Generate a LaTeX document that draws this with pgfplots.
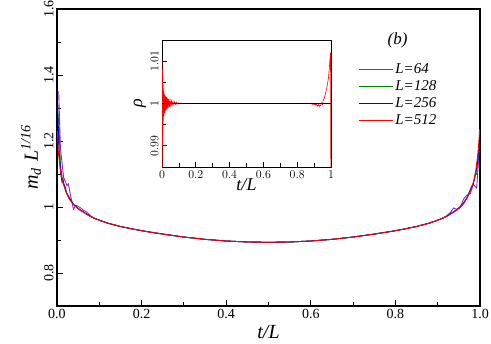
\documentclass[border=0pt]{standalone}
\usepackage{fontspec}
\setmainfont{Liberation Serif}
\usepackage{pgfplots}
\pgfplotsset{compat=1.18}

\definecolor{cViolet}{RGB}{140,40,220}
\definecolor{cGreen}{RGB}{0,135,0}
\definecolor{cBlue}{RGB}{0,0,255}
\definecolor{cRed}{RGB}{255,0,0}

\newcommand{\tickfont}{\fontsize{14bp}{16bp}\selectfont}
\newcommand{\labfont}{\fontsize{20bp}{24bp}\selectfont}

\begin{document}
\begin{tikzpicture}
\useasboundingbox (-57bp,-38bp) rectangle (434bp,306bp);
% main axis
\begin{axis}[
  at={(0,0)}, anchor=south west,
  scale only axis,
  width=423bp, height=297bp,
  xmin=0, xmax=1, ymin=0.7, ymax=1.6,
  xtick={0,0.2,0.4,0.6,0.8,1},
  xticklabels={0.0,0.2,0.4,0.6,0.8,1.0},
  minor xtick={0.1,0.3,0.5,0.7,0.9},
  ytick={0.8,1,1.2,1.4,1.6},
  yticklabels={0.8,1,1.2,1.4,1.6},
  minor ytick={0.7,0.9,1.1,1.3,1.5},
  xtick pos=left, ytick pos=left,
  tick align=inside,
  major tick length=6bp, minor tick length=4bp,
  axis line style={line width=1.1pt},
  tick style={line width=0.9pt, black},
  tick label style={font=\tickfont},
  yticklabel style={rotate=90, anchor=south},
  xlabel={\textit{t/L}},
  ylabel={\textit{m}\textsubscript{\textit{d}}\hspace{0.3em}\textit{L}\textsuperscript{\textit{1/16}}},
  label style={font=\labfont},
  xlabel style={yshift=1bp},
  ylabel style={yshift=-4bp},
  legend style={draw=none, fill=none, font=\fontsize{15bp}{17bp}\selectfont\itshape,
    at={(rel axis cs:0.705,0.83)}, anchor=north west, row sep=1.5bp},
  legend cell align=left,
  legend image code/.code={\draw[#1, line width=1pt] (0bp,0bp) -- (34bp,0bp);},
  every axis plot/.append style={line width=0.9pt},
]
\addplot[cViolet] coordinates {
(0.004,1.35)(0.008,1.18)(0.0156,1.09)(0.0234,1.065)(0.027,1.07)(0.03125,1.04)
(0.039,0.993)(0.044,1.005)(0.047,1.004)(0.055,0.998)(0.0625,0.99)(0.070,0.985)
(0.078,0.975)(0.086,0.966)(0.094,0.963)(0.10,0.960)
(0.12,0.951)(0.15,0.941)(0.18,0.933)(0.21,0.926)(0.25,0.918)(0.30,0.909)(0.35,0.902)
(0.40,0.897)(0.45,0.894)(0.50,0.893)(0.55,0.894)(0.60,0.897)(0.65,0.902)(0.70,0.909)
(0.75,0.918)(0.79,0.926)(0.82,0.933)(0.85,0.941)(0.88,0.951)(0.90,0.960)
(0.91,0.966)(0.92,0.972)(0.9297,0.983)(0.9375,0.997)(0.945,0.993)(0.953,0.998)
(0.961,1.024)(0.969,1.036)(0.977,1.040)(0.984,1.068)(0.9922,1.058)(0.996,1.13)(0.998,1.17)
};
\addplot[cGreen] coordinates {
(0.004,1.27)(0.008,1.13)(0.012,1.09)(0.016,1.07)(0.02,1.06)(0.023,1.04)(0.027,1.035)
(0.031,1.025)(0.039,1.008)(0.047,0.998)(0.055,0.990)(0.0625,0.985)(0.07,0.978)
(0.08,0.971)(0.09,0.965)(0.10,0.960)
(0.12,0.951)(0.15,0.941)(0.18,0.933)(0.21,0.926)(0.25,0.918)(0.30,0.909)(0.35,0.902)
(0.40,0.897)(0.45,0.894)(0.50,0.893)(0.55,0.894)(0.60,0.897)(0.65,0.902)(0.70,0.909)
(0.75,0.918)(0.79,0.926)(0.82,0.933)(0.85,0.941)(0.88,0.951)(0.90,0.960)
(0.91,0.965)(0.92,0.971)(0.9375,0.986)(0.945,0.992)(0.953,1.000)(0.961,1.012)
(0.969,1.028)(0.977,1.050)(0.984,1.070)(0.988,1.095)(0.992,1.100)(0.996,1.16)
};
\addplot[cBlue] coordinates {
(0.002,1.31)(0.004,1.19)(0.006,1.15)(0.008,1.12)(0.01,1.09)(0.012,1.075)(0.014,1.085)
(0.016,1.07)(0.02,1.052)(0.025,1.035)(0.03,1.024)(0.04,1.007)(0.05,0.996)(0.06,0.987)
(0.08,0.971)(0.09,0.965)(0.10,0.960)
(0.12,0.951)(0.15,0.941)(0.18,0.933)(0.21,0.926)(0.25,0.918)(0.30,0.909)(0.35,0.902)
(0.40,0.897)(0.45,0.894)(0.50,0.893)(0.55,0.894)(0.60,0.897)(0.65,0.902)(0.70,0.909)
(0.75,0.918)(0.79,0.926)(0.82,0.933)(0.85,0.941)(0.88,0.951)(0.90,0.960)
(0.91,0.965)(0.92,0.971)(0.93,0.979)(0.94,0.987)(0.95,0.997)(0.96,1.010)(0.97,1.030)
(0.98,1.062)(0.984,1.070)(0.988,1.090)(0.992,1.120)(0.996,1.16)(0.998,1.19)
};
\addplot[cRed] coordinates {
(0.001,1.23)(0.003,1.17)(0.005,1.145)(0.0075,1.115)(0.01,1.095)(0.015,1.07)(0.02,1.05)
(0.03,1.022)(0.04,1.006)(0.05,0.995)(0.06,0.986)(0.07,0.978)(0.08,0.971)(0.09,0.965)
(0.10,0.960)
(0.12,0.951)(0.15,0.941)(0.18,0.933)(0.21,0.926)(0.25,0.918)(0.30,0.909)(0.35,0.902)
(0.40,0.897)(0.45,0.894)(0.50,0.893)(0.55,0.894)(0.60,0.897)(0.65,0.902)(0.70,0.909)
(0.75,0.918)(0.79,0.926)(0.82,0.933)(0.85,0.941)(0.88,0.951)(0.90,0.960)
(0.91,0.965)(0.92,0.971)(0.93,0.978)(0.94,0.986)(0.95,0.995)(0.96,1.008)(0.97,1.028)
(0.98,1.058)(0.985,1.078)(0.99,1.11)(0.995,1.16)(0.998,1.21)(0.999,1.235)
};
\legend{L=64,L=128,L=256,L=512}
\node[font=\fontsize{17bp}{20bp}\selectfont\itshape] at (rel axis cs:0.805,0.895) {(b)};
\end{axis}
% inset
\begin{axis}[
  at={(105bp,139bp)}, anchor=south west,
  scale only axis,
  width=169bp, height=127bp,
  axis background/.style={fill=white},
  xmin=0, xmax=1, ymin=0.985, ymax=1.015,
  xtick={0,0.2,0.4,0.6,0.8,1},
  minor xtick={0.1,0.3,0.5,0.7,0.9},
  ytick={0.99,1,1.01},
  minor ytick={0.995,1.005},
  scaled y ticks=false,
  yticklabel style={rotate=90, anchor=south, /pgf/number format/fixed},
  xtick pos=left, ytick pos=left,
  tick align=inside,
  major tick length=5bp, minor tick length=3.5bp,
  axis line style={line width=1pt},
  tick style={line width=0.8pt, black},
  tick label style={font=\fontsize{13bp}{15bp}\selectfont},
  xlabel={\textit{t/L}},
  ylabel={\textit{ρ}},
  label style={font=\fontsize{18bp}{20bp}\selectfont},
  xlabel style={yshift=6bp},
  ylabel style={yshift=-2bp},
]
\addplot[cRed, line width=0.6pt] coordinates {
(0.000,0.984)(0.001,1.0105)(0.002,0.984)(0.003,1.008)(0.004,0.990)(0.005,1.006)
(0.006,0.994)(0.007,1.0045)(0.008,0.996)(0.009,1.003)(0.010,0.997)(0.011,1.0028)
(0.012,0.9975)(0.014,1.0024)(0.016,0.9978)(0.018,1.0020)(0.020,0.9982)(0.022,1.0017)
(0.025,0.9985)(0.028,1.0015)(0.031,0.9988)(0.034,1.0012)(0.037,0.9990)(0.040,1.0010)
(0.044,0.9992)(0.048,1.0008)(0.052,0.9994)(0.056,1.0006)(0.060,0.9996)(0.065,1.0005)
(0.070,0.9997)(0.075,1.0004)(0.080,0.9998)(0.085,1.0003)(0.090,0.9998)(0.095,1.0002)
(0.100,0.9999)(0.110,1.0001)(0.120,1.0000)(0.200,1.0000)(0.500,1.0000)(0.800,1.0000)
(0.870,1.0000)(0.880,0.9999)(0.885,1.0001)(0.890,0.9998)(0.895,1.0000)(0.900,0.9997)
(0.905,0.9999)(0.910,0.9996)(0.915,0.9998)(0.920,0.9994)(0.925,0.9997)(0.930,0.9993)
(0.935,0.9996)(0.940,0.9995)(0.945,1.0002)(0.950,0.9998)(0.955,1.0008)(0.960,1.0012)
(0.965,1.0020)(0.970,1.0028)(0.975,1.0037)(0.980,1.0048)(0.985,1.0060)(0.990,1.0083)
(0.994,1.0105)(0.997,1.0120)(0.999,0.984)
};
\addplot[black, line width=0.7pt] coordinates {(0,1) (1,1)};
\end{axis}
\end{tikzpicture}
\end{document}
